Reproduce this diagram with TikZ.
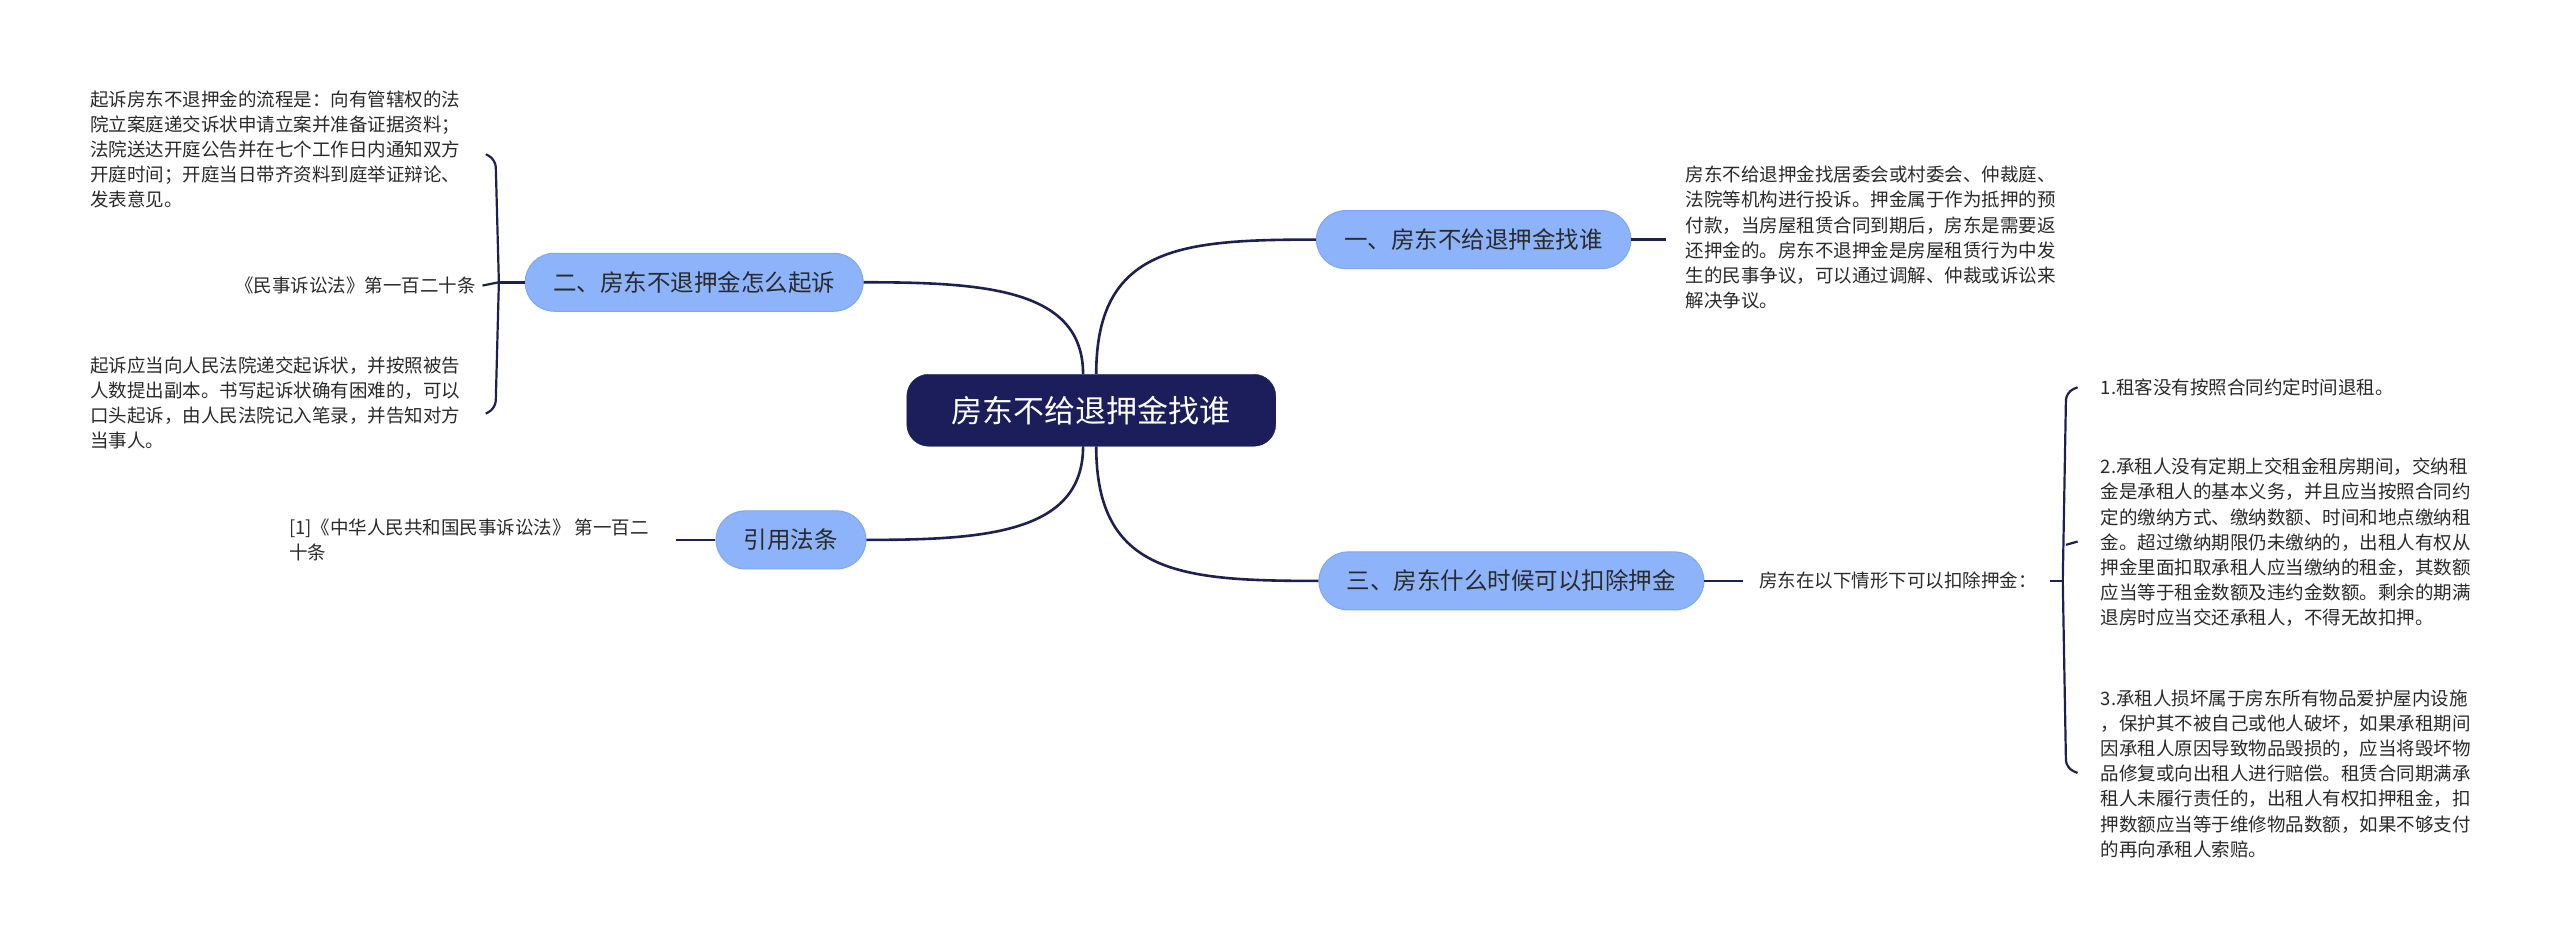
\documentclass[tikz,border=0pt]{standalone}
\usepackage{fontspec}
\setmainfont{Noto Sans CJK SC}
\newcommand\fs{\fontsize{18.5pt}{25.2pt}\selectfont}
\definecolor{navy}{HTML}{1C1E5C}
\definecolor{lnc}{HTML}{1E2150}
\definecolor{bfill}{HTML}{8DB4FA}
\definecolor{bdraw}{HTML}{7EA8F4}
\definecolor{txt}{HTML}{2A2A2A}
\tikzset{
  root/.style={fill=navy,draw=navy,rounded corners=22pt,text=white,minimum width=369pt,minimum height=72pt,font=\fontsize{31pt}{34pt}\selectfont},
  branch/.style={fill=bfill,draw=bdraw,line width=1pt,rounded corners=29pt,text=txt,minimum height=58pt,inner xsep=28pt,font=\fontsize{23.5pt}{26pt}\selectfont},
  leaf/.style={text=txt,inner sep=0pt,align=left,font=\fs},
  conn/.style={draw=lnc,line width=2.6pt},
  thin/.style={draw=lnc,line width=2.2pt,rounded corners=8pt},
}
\begin{document}
\begin{tikzpicture}[x=1.641pt,y=-1.641pt]
\useasboundingbox[fill=white] (0,0) rectangle (1560,578.3);
\node[root] (c) at (665,250) {房东不给退押金找谁};
\node[branch] (b1) at (898,146) {一、房东不给退押金找谁};
\node[branch] (b2) at (423,172) {二、房东不退押金怎么起诉};
\node[branch] (b4) at (482,329) {引用法条};
\node[branch] (b3) at (921,354) {三、房东什么时候可以扣除押金};

\draw[conn] (668,228) .. controls (668,150) and (720,146) .. (b1.west);
\draw[conn] (668,272) .. controls (668,350) and (720,354) .. (b3.west);
\draw[conn] (660,228) .. controls (660,176) and (600,172) .. (b2.east);
\draw[conn] (660,272) .. controls (660,325) and (600,329) .. (b4.east);

% leaves of 一
\node[leaf,anchor=north west] (t1) at (1027,101) {房东不给退押金找居委会或村委会、仲裁庭、\\法院等机构进行投诉。押金属于作为抵押的预\\付款，当房屋租赁合同到期后，房东是需要返\\还押金的。房东不退押金是房屋租赁行为中发\\生的民事争议，可以通过调解、仲裁或诉讼来\\解决争议。};
\draw[conn] (b1.east) -- (1015,146);

% leaves of 二
\node[leaf,anchor=north west] (l1) at (55,55) {起诉房东不退押金的流程是：向有管辖权的法\\院立案庭递交诉状申请立案并准备证据资料；\\法院送达开庭公告并在七个工作日内通知双方\\开庭时间；开庭当日带齐资料到庭举证辩论、\\发表意见。};
\node[leaf,anchor=east] (l2) at (290,174) {《民事诉讼法》第一百二十条};
\node[leaf,anchor=north west] (l3) at (55,217) {起诉应当向人民法院递交起诉状，并按照被告\\人数提出副本。书写起诉状确有困难的，可以\\口头起诉，由人民法院记入笔录，并告知对方\\当事人。};
\coordinate (lb) at (304,172);
\draw[conn] (b2.west) -- (lb);
\draw[thin] (296,94) -- (302,97) -- (304,172) -- (302,249) -- (296,252);
\draw[thin] (294,174) -- (lb);

% leaves of 引用法条
\node[leaf,anchor=north west] (r1) at (176,316) {[1]《中华人民共和国民事诉讼法》 第一百二\\十条};
\draw[conn] (b4.west) -- (412,329);

% leaves of 三
\node[leaf,anchor=west] (s) at (1072,354) {房东在以下情形下可以扣除押金：};
\draw[conn] (b3.east) -- (1062,354);
\node[leaf,anchor=west] (i1) at (1280,236) {1.租客没有按照合同约定时间退租。};
\node[leaf,anchor=north west] (i2) at (1280,279) {2.承租人没有定期上交租金租房期间，交纳租\\金是承租人的基本义务，并且应当按照合同约\\定的缴纳方式、缴纳数额、时间和地点缴纳租\\金。超过缴纳期限仍未缴纳的，出租人有权从\\押金里面扣取承租人应当缴纳的租金，其数额\\应当等于租金数额及违约金数额。剩余的期满\\退房时应当交还承租人，不得无故扣押。};
\node[leaf,anchor=north west] (i3) at (1280,420) {3.承租人损坏属于房东所有物品爱护屋内设施\\，保护其不被自己或他人破坏，如果承租期间\\因承租人原因导致物品毁损的，应当将毁坏物\\品修复或向出租人进行赔偿。租赁合同期满承\\租人未履行责任的，出租人有权扣押租金，扣\\押数额应当等于维修物品数额，如果不够支付\\的再向承租人索赔。};
\coordinate (rb) at (1257,354);
\draw[conn] (s.east) ++(8,0) -- (rb);
\draw[thin] (1266,236) -- (1259,239) -- (1257,354) -- (1259,468) -- (1266,471);
\draw[thin] (1259,332) -- (1266,330);
\end{tikzpicture}
\end{document}
